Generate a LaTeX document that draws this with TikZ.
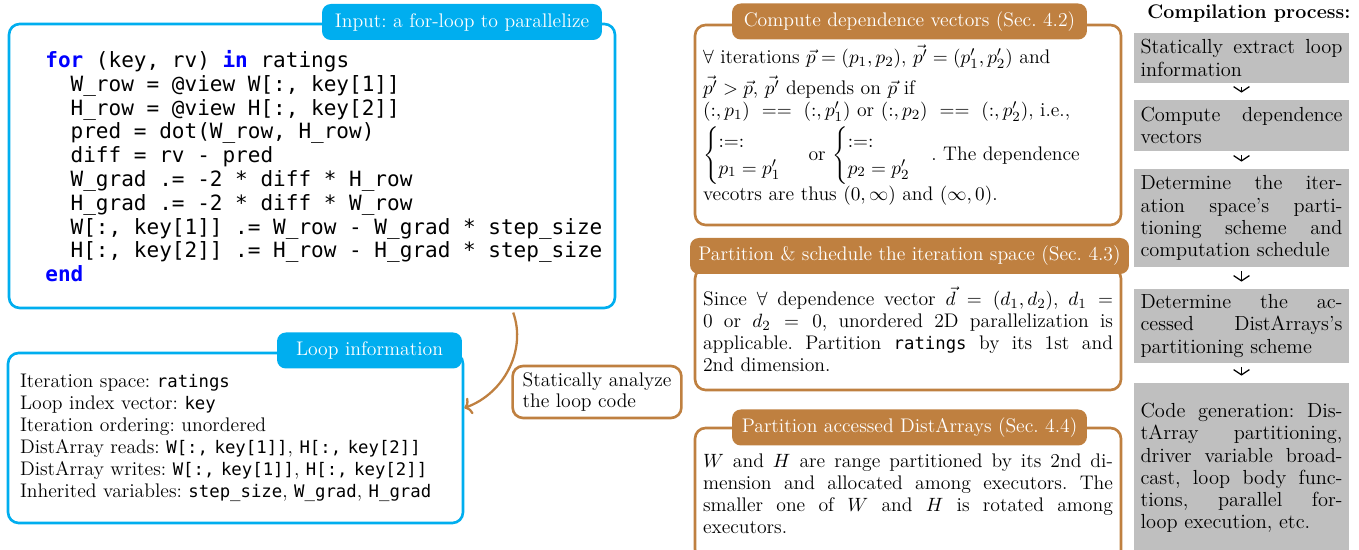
\documentclass[tikz,border=0pt]{standalone}
\usepackage{amsmath}
\usepackage{fontspec}
\setmonofont[Scale=0.88]{DejaVu Sans Mono}
\usepackage{xcolor}
\usepackage{tikz}
\usetikzlibrary{arrows.meta}
\definecolor{loopblue}{HTML}{00AEEF}
\definecolor{passbrown}{HTML}{BF8040}
\definecolor{stagegray}{HTML}{BFBFBF}
\newcommand{\codeindent}{\hspace*{1.204em}}
\newcommand{\kw}[1]{\textcolor{blue}{\textbf{#1}}}
\frenchspacing

\begin{document}
\begin{tikzpicture}[x=0.02cm, y=0.02cm,
  font=\fontsize{11.2}{12.5}\selectfont,
  frame/.style={rectangle, rounded corners=6pt, draw=#1, fill=white,
    line width=1.5pt, inner sep=0pt},
  tab/.style={rectangle, rounded corners=5pt, fill=#1, text=white,
    minimum height=0.72cm, inner xsep=3pt, inner ysep=0pt},
  stage/.style={rectangle, fill=stagegray, text width=4.04cm, align=justify,
    inner xsep=0.13cm, inner ysep=0pt, font=\fontsize{11.6}{12.6}\selectfont},
  flow/.style={-{Straight Barb[length=3pt,width=9pt]}, line width=0.7pt,
    shorten <=2pt, shorten >=4pt}
]
\useasboundingbox (0,0) rectangle (1359,550);

% left column: code and extracted loop information
\node[frame=loopblue, minimum width=12.12cm, minimum height=5.68cm] (inputbox) at (312,384) {};
\node[anchor=north west, inner sep=0pt, align=left,
  font=\fontsize{13.6}{13.55}\selectfont\ttfamily] (loopcode) at (45,500) {%
\kw{for} (key, rv) \kw{in} ratings\\
\codeindent W\_row = @view W[:, key[1]]\\
\codeindent H\_row = @view H[:, key[2]]\\
\codeindent pred = dot(W\_row, H\_row)\\
\codeindent diff = rv - pred\\
\codeindent W\_grad .= -2 * diff * H\_row\\
\codeindent H\_grad .= -2 * diff * W\_row\\
\codeindent W[:, key[1]] .= W\_row - W\_grad * step\_size\\
\codeindent H[:, key[2]] .= H\_row - H\_grad * step\_size\\
\kw{end}};
\node[tab=loopblue, minimum width=5.6cm] (inputtab) at (462,528) {Input: a for-loop to parallelize};

\node[frame=loopblue, minimum width=9.1cm, minimum height=3.4cm, text width=8.62cm,
  inner xsep=0.24cm, align=left] (loopinfo) at (235.5,112) {%
Iteration space: \texttt{ratings}\\
Loop index vector: \texttt{key}\\
Iteration ordering: unordered\\
DistArray reads: \texttt{W[:, key[1]]}, \texttt{H[:, key[2]]}\\
DistArray writes: \texttt{W[:, key[1]]}, \texttt{H[:, key[2]]}\\
Inherited variables: \texttt{step\_size}, \texttt{W\_grad}, \texttt{H\_grad}};
\node[tab=loopblue, minimum width=3.7cm] (looptab) at (369.5,199.5) {Loop information};

\node[frame=passbrown, inner xsep=0.2cm, minimum height=1.04cm, align=left] (analyze) at (597,158) {Statically analyze\\the loop code};
\draw[passbrown, line width=1.3pt, -{To[length=4pt,width=10pt]}, shorten <=2pt]
  ([xshift=4cm]inputbox.south) to[out=-70, in=20] ([yshift=0.6cm]loopinfo.east);

% middle column: analysis passes
\node[frame=passbrown, minimum width=8.52cm, minimum height=4cm, text width=8.2cm,
  inner xsep=0.16cm, align=left] (depvec) at (908,425) {%
$\forall$ iterations $\vec{p} = (p_1, p_2)$, $\vec{p'} = (p'_1, p'_2)$ and\\[3pt]
$\vec{p'} > \vec{p}$, $\vec{p'}$ depends on $\vec{p}$ if\\
$(:, p_1)\ ==\ (:, p'_1)$ or $(:, p_2)\ ==\ (:, p'_2)$, i.e.,\\[2pt]
$\begin{cases} :=: \\ p_1 = p'_1 \end{cases}$ or
$\begin{cases} :=: \\ p_2 = p'_2 \end{cases}$. The dependence\\
vecotrs are thus $(0, \infty)$ and $(\infty, 0)$.};
\node[tab=passbrown, minimum width=7.1cm] (deptab) at (909.5,528.5) {Compute dependence vectors (Sec. 4.2)};

\node[frame=passbrown, minimum width=8.52cm, minimum height=2.44cm, text width=8.2cm, align=justify] (schedule) at (908,221) {%
Since $\forall$ dependence vector $\vec{d} = (d_1, d_2)$, $d_1 =$\linebreak
0 or $d_2 = 0$, unordered 2D parallelization is\linebreak
applicable. Partition \texttt{ratings} by its 1st and\linebreak
2nd dimension.};
\node[tab=passbrown, minimum width=8.78cm] (schedtab) at (909.5,294) {Partition \& schedule the iteration space (Sec. 4.3)};

\node[frame=passbrown, minimum width=8.52cm, minimum height=2.64cm, text width=8.2cm, align=justify] (distarr) at (908,56) {%
$W$ and $H$ are range partitioned by its 2nd di-\linebreak
mension and allocated among executors. The\linebreak
smaller one of $W$ and $H$ is rotated among\linebreak
executors.};
\node[tab=passbrown, minimum width=7.1cm] (disttab) at (909.5,122.5) {Partition accessed DistArrays (Sec. 4.4)};

% right column: compilation process
\node[font=\fontsize{11.2}{12.5}\selectfont\bfseries] (compiletitle) at (1249,536) {Compilation process:};
\node[stage, minimum height=1cm] (a) at (1241.5,492) {Statically extract loop\linebreak information};
\node[stage, minimum height=1.02cm] (b) at (1241.5,424.5) {Compute dependence\linebreak vectors};
\node[stage, minimum height=1.96cm] (c) at (1241.5,332) {Determine the iter-\linebreak ation space's parti-\linebreak tioning scheme and\linebreak computation schedule};
\node[stage, minimum height=1.48cm] (d) at (1241.5,224) {Determine the ac-\linebreak cessed DistArrays's\linebreak partitioning scheme};
\node[stage, minimum height=3.4cm] (e) at (1241.5,82) {Code generation: Dis-\linebreak tArray partitioning,\linebreak driver variable broad-\linebreak cast, loop body func-\linebreak tions, parallel for-\linebreak loop execution, etc.};
\draw[flow] (a) -- (b);
\draw[flow] (b) -- (c);
\draw[flow] (c) -- (d);
\draw[flow] (d) -- (e);
\end{tikzpicture}
\end{document}
